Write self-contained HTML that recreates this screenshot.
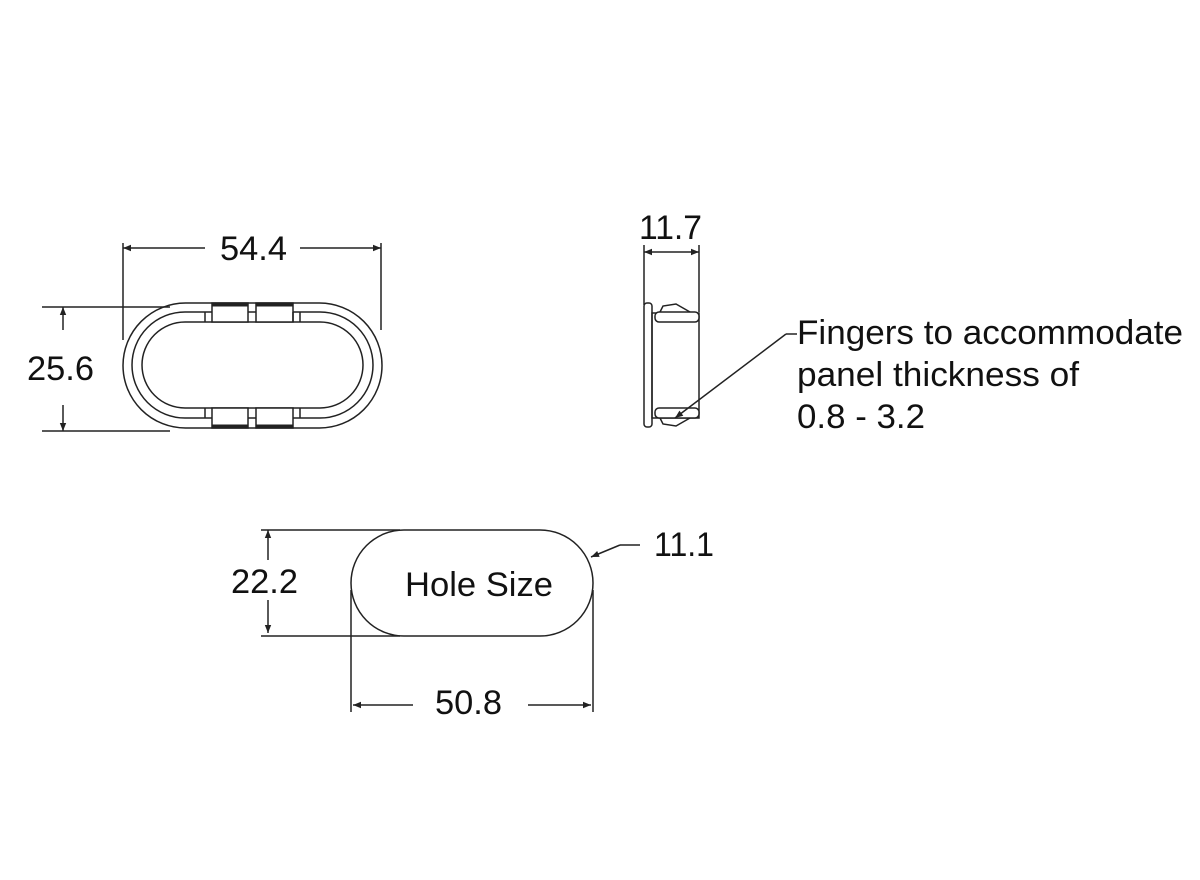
<!DOCTYPE html>
<html><head><style>html,body{margin:0;padding:0;background:#fff}svg{display:block}</style></head><body>
<svg width="1200" height="880" viewBox="0 0 1200 880" xmlns="http://www.w3.org/2000/svg" font-family="Liberation Sans, Arial, sans-serif">
<defs>
<marker id="a" viewBox="0 0 10 10" refX="10" refY="5" markerWidth="10" markerHeight="8" orient="auto-start-reverse" markerUnits="userSpaceOnUse"><path d="M0,1 L10,5 L0,9 z" fill="#222"/></marker>
</defs>
<g stroke="#222" stroke-width="1.5" fill="none">
<rect x="123" y="303" width="259" height="125" rx="62.5"/>
<rect x="132" y="312" width="241" height="106" rx="53"/>
<rect x="142" y="322" width="221" height="86" rx="43"/>
<g fill="#fff">
<rect x="212" y="303" width="36" height="19"/><rect x="256" y="303" width="37" height="19"/>
<rect x="212" y="408" width="36" height="20"/><rect x="256" y="408" width="37" height="20"/>
</g>
<line x1="212" y1="305" x2="248" y2="305" stroke-width="3"/><line x1="256" y1="305" x2="293" y2="305" stroke-width="3"/>
<line x1="212" y1="426" x2="248" y2="426" stroke-width="3"/><line x1="256" y1="426" x2="293" y2="426" stroke-width="3"/>
<path d="M205,312V322M293,312V322M300,312V322M205,408V418M300,408V418"/>
<path d="M123,243V340M381,243V330"/>
<line x1="123" y1="248" x2="205" y2="248" marker-start="url(#a)"/>
<line x1="300" y1="248" x2="381" y2="248" marker-end="url(#a)"/>
<path d="M42,307H170M42,431H170"/>
<line x1="63" y1="307" x2="63" y2="330" marker-start="url(#a)"/>
<line x1="63" y1="405" x2="63" y2="431" marker-end="url(#a)"/>
<path d="M644,245V305M699,245V312"/>
<line x1="644" y1="252" x2="699" y2="252" marker-start="url(#a)" marker-end="url(#a)"/>
<rect x="644" y="303" width="8" height="124" rx="3"/>
<rect x="652" y="313" width="47" height="105"/>
<rect x="655" y="312" width="44" height="10" rx="4" fill="#fff"/>
<rect x="655" y="408" width="44" height="10" rx="4" fill="#fff"/>
<path d="M660,312 L663,306 L676,304 L690,312"/>
<path d="M660,418 L663,424 L676,426 L690,418"/>
<line x1="797" y1="334" x2="786" y2="334"/>
<line x1="786" y1="334" x2="675" y2="418" marker-end="url(#a)"/>
<rect x="351" y="530" width="242" height="106" rx="53"/>
<path d="M261,530H400M261,636H400M351,590V712M593,590V712"/>
<line x1="268" y1="560" x2="268" y2="530" marker-end="url(#a)"/>
<line x1="268" y1="600" x2="268" y2="633" marker-end="url(#a)"/>
<line x1="413" y1="705" x2="353" y2="705" marker-end="url(#a)"/>
<line x1="528" y1="705" x2="591" y2="705" marker-end="url(#a)"/>
<path d="M640,545H620"/>
<line x1="620" y1="545" x2="591" y2="557" marker-end="url(#a)"/>
</g>
<g fill="#111" font-size="34">
<text x="220" y="260" textLength="67" lengthAdjust="spacingAndGlyphs">54.4</text>
<text x="27" y="380" textLength="67" lengthAdjust="spacingAndGlyphs">25.6</text>
<text x="639" y="239" textLength="63" lengthAdjust="spacingAndGlyphs">11.7</text>
<text x="797" y="344" textLength="386" lengthAdjust="spacingAndGlyphs">Fingers to accommodate</text>
<text x="797" y="386" textLength="282" lengthAdjust="spacingAndGlyphs">panel thickness of</text>
<text x="797" y="428" textLength="128" lengthAdjust="spacingAndGlyphs">0.8 - 3.2</text>
<text x="405" y="596" textLength="148" lengthAdjust="spacingAndGlyphs">Hole Size</text>
<text x="231" y="593" textLength="67" lengthAdjust="spacingAndGlyphs">22.2</text>
<text x="435" y="714" textLength="67" lengthAdjust="spacingAndGlyphs">50.8</text>
<text x="654" y="556" textLength="60" lengthAdjust="spacingAndGlyphs">11.1</text>
</g>
</svg>
</body></html>
